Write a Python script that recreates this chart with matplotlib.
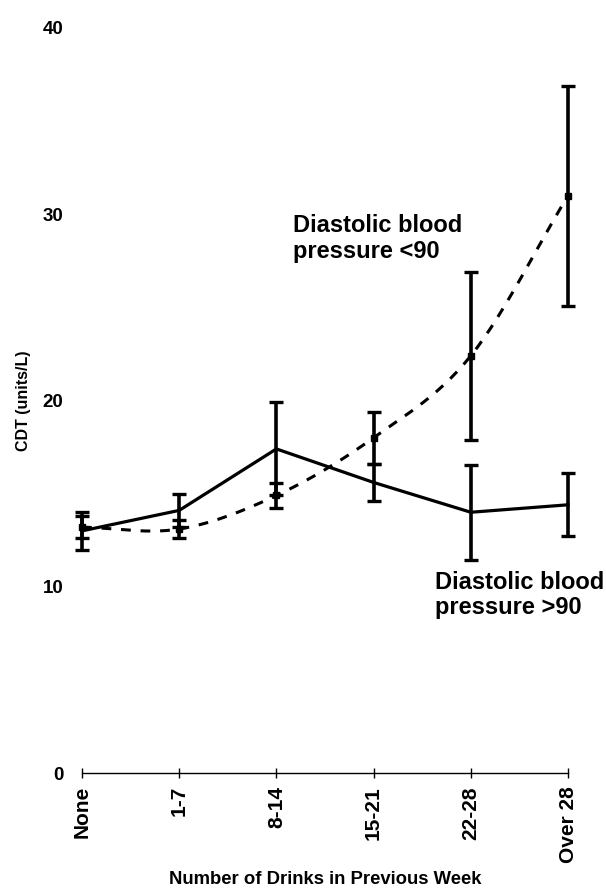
import numpy as np
import matplotlib
matplotlib.use("Agg")
import matplotlib.pyplot as plt

plt.rcParams['font.family'] = ['Liberation Sans', 'DejaVu Sans']
plt.rcParams['font.weight'] = 'bold'

categories = ['None', '1-7', '8-14', '15-21', '22-28', 'Over 28']
cdt_dbp_below90 = [13.2, 13.1, 14.9, 18.0, 22.4, 31.0]
err_dbp_below90 = [0.6, 0.5, 0.65, 1.4, 4.5, 5.9]
cdt_dbp_above90 = [13.0, 14.1, 17.4, 15.6, 14.0, 14.4]
err_dbp_above90 = [1.0, 0.9, 2.5, 1.0, 2.55, 1.7]
yticks = [0, 10, 20, 30, 40]


def catmull_rom(x, y, n=30):
    x = np.asarray(x, float); y = np.asarray(y, float)
    px = np.concatenate([[2 * x[0] - x[1]], x, [2 * x[-1] - x[-2]]])
    py = np.concatenate([[2 * y[0] - y[1]], y, [2 * y[-1] - y[-2]]])
    xs, ys = [], []
    t = np.linspace(0, 1, n)
    for i in range(1, len(px) - 2):
        for P, out in ((px, xs), (py, ys)):
            p0, p1, p2, p3 = P[i - 1], P[i], P[i + 1], P[i + 2]
            out.extend(0.5 * ((2 * p1) + (-p0 + p2) * t +
                              (2 * p0 - 5 * p1 + 4 * p2 - p3) * t ** 2 +
                              (-p0 + 3 * p1 - 3 * p2 + p3) * t ** 3))
    return np.array(xs), np.array(ys)


fig = plt.figure(figsize=(6.06, 8.96), dpi=100)
ax = fig.add_axes([82 / 606, 1 - 773 / 896, (568 - 82) / 606, (773 - 28) / 896])

x = np.arange(len(categories))

# Dashed series (diastolic < 90), smoothed line
sx, sy = catmull_rom(x, cdt_dbp_below90)
ax.plot(sx, sy, color='black', lw=2.2, linestyle=(0, (3.2, 3.2)), clip_on=False, zorder=3)
ax.errorbar(x, cdt_dbp_below90, yerr=err_dbp_below90, fmt='s', color='black',
            markersize=5, elinewidth=2.6, capsize=4.8, capthick=2.4, clip_on=False, zorder=4)

# Solid series (diastolic > 90)
ax.errorbar(x, cdt_dbp_above90, yerr=err_dbp_above90, fmt='-', color='black',
            lw=2.3, elinewidth=2.6, capsize=4.8, capthick=2.4, clip_on=False, zorder=4)

ax.set_xlim(0, len(categories) - 1)
ax.set_ylim(0, 40)
ax.set_xticks(x)
ax.set_xticklabels(categories, rotation=90, fontsize=15, fontweight='bold')
ax.set_yticks(yticks)
ax.set_yticklabels([str(v) for v in yticks], fontsize=13.5, fontweight='bold')

for s in ['left', 'right', 'top']:
    ax.spines[s].set_visible(False)
ax.spines['bottom'].set_linewidth(1.0)
ax.tick_params(axis='y', length=0, pad=13.5)
ax.tick_params(axis='x', direction='inout', length=7, width=1.0, pad=6)

ax.set_xlabel('Number of Drinks in Previous Week', fontsize=13.3, fontweight='bold', labelpad=6)
ax.set_ylabel('CDT (units/L)', fontsize=11.5, fontweight='bold', labelpad=8)

ax.text(2.17, 30.0, 'Diastolic blood\npressure <90', fontsize=17, fontweight='bold',
        ha='left', va='top', linespacing=1.15)
ax.text(3.63, 10.86, 'Diastolic blood\npressure >90', fontsize=17, fontweight='bold',
        ha='left', va='top', linespacing=1.15)

fig.savefig('out.png', dpi=100)
